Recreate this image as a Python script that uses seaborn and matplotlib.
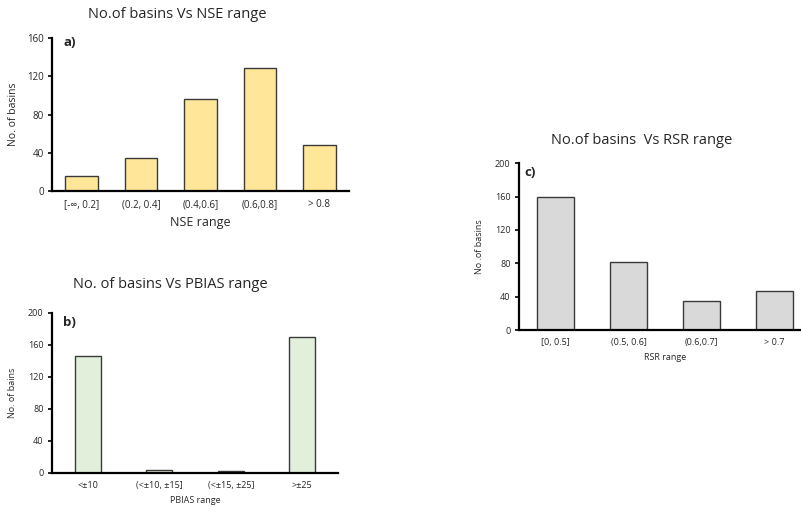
import numpy as np
import pandas as pd
import matplotlib
matplotlib.use("Agg")
import matplotlib.pyplot as plt
import seaborn as sns

# ---- data ----
nse_labels = ["[-∞, 0.2]", "(0.2, 0.4]", "(0.4,0.6]", "(0.6,0.8]", "> 0.8"]
nse_counts = [16, 35, 96, 129, 48]

pbias_labels = ["<±10", "(<±10, ±15]", "(<±15, ±25]", ">±25"]
pbias_counts = [146, 3, 2, 170]

rsr_labels = ["[0, 0.5]", "(0.5, 0.6]", "(0.6,0.7]", "> 0.7"]
rsr_counts = [160, 82, 35, 47]

sns.set_theme(style="white")
plt.rcParams['font.family'] = ['Open Sans', 'DejaVu Sans']
TXT = "#262626"

fig = plt.figure(figsize=(8.01, 5.12), dpi=100)
W, H = 801, 512

def ax_at(l, r, top, bot):
    return fig.add_axes([l / W, 1 - bot / H, (r - l) / W, (bot - top) / H])

def style(ax, labels, counts, color, width, ymax, ystep, tsize):
    df = pd.DataFrame({"cat": labels, "n": counts})
    sns.barplot(data=df, x="cat", y="n", color=color, width=width,
                edgecolor="#3a3a3a", linewidth=1.0, saturation=1, ax=ax)
    n = len(labels)
    ax.set_xlim(-0.5, n - 0.5)
    ax.set_ylim(0, ymax)
    ax.set_yticks(np.arange(0, ymax + 1, ystep))
    ax.set_xticks(np.arange(-0.5, n, 1.0), minor=True)
    ax.tick_params(axis="x", which="major", length=0, labelsize=tsize, colors=TXT, pad=6)
    ax.tick_params(axis="x", which="minor", length=3, width=1.2, color="black", direction="out")
    ax.tick_params(axis="y", which="major", length=3, width=1.2, color="black",
                   direction="out", left=True, labelsize=tsize, labelcolor=TXT, pad=3)
    for s in ["top", "right"]:
        ax.spines[s].set_visible(False)
    for s in ["left", "bottom"]:
        ax.spines[s].set_color("black")
        ax.spines[s].set_linewidth(1.6)
    ax.set_xlabel("")
    ax.set_ylabel("")
    ax.patch.set_alpha(0)

# a) NSE
axa = ax_at(52, 349, 38.3, 191)
style(axa, nse_labels, nse_counts, "#FFE699", 0.55, 160, 40, 7)
axa.set_xlabel("NSE range", fontsize=9, color=TXT, labelpad=4)
axa.set_ylabel("No. of basins", fontsize=7.5, color=TXT, labelpad=6)
fig.text(63 / W, 1 - 43 / H, "a)", fontsize=9.5, fontweight="bold", va="center", ha="left")
fig.text(177 / W, 1 - 15 / H, "No.of basins Vs NSE range", fontsize=10.5, color=TXT, ha="center", va="center")

# b) PBIAS
axb = ax_at(52, 338, 312.7, 472.7)
style(axb, pbias_labels, pbias_counts, "#E2EFDA", 0.36, 200, 40, 6.5)
axb.set_xlabel("PBIAS range", fontsize=6.5, color=TXT, labelpad=4)
axb.set_ylabel("No. of bains", fontsize=6.5, color=TXT, labelpad=8)
fig.text(63 / W, 1 - 323 / H, "b)", fontsize=9.5, fontweight="bold", va="center", ha="left")
fig.text(170 / W, 1 - 285 / H, "No. of basins Vs PBIAS range", fontsize=10.5, color=TXT, ha="center", va="center")

# c) RSR
axc = ax_at(519, 811, 163.3, 330)
style(axc, rsr_labels, rsr_counts, "#D9D9D9", 0.5, 200, 40, 6.5)
axc.set_xlabel("RSR range", fontsize=6.5, color=TXT, labelpad=4)
axc.set_ylabel("No .of basins", fontsize=6.5, color=TXT, labelpad=8)
fig.text(524 / W, 1 - 172 / H, "c)", fontsize=9.5, fontweight="bold", va="center", ha="left")
fig.text(642 / W, 1 - 140 / H, "No.of basins  Vs RSR range", fontsize=10.5, color=TXT, ha="center", va="center")

fig.savefig("out.png", dpi=100)
